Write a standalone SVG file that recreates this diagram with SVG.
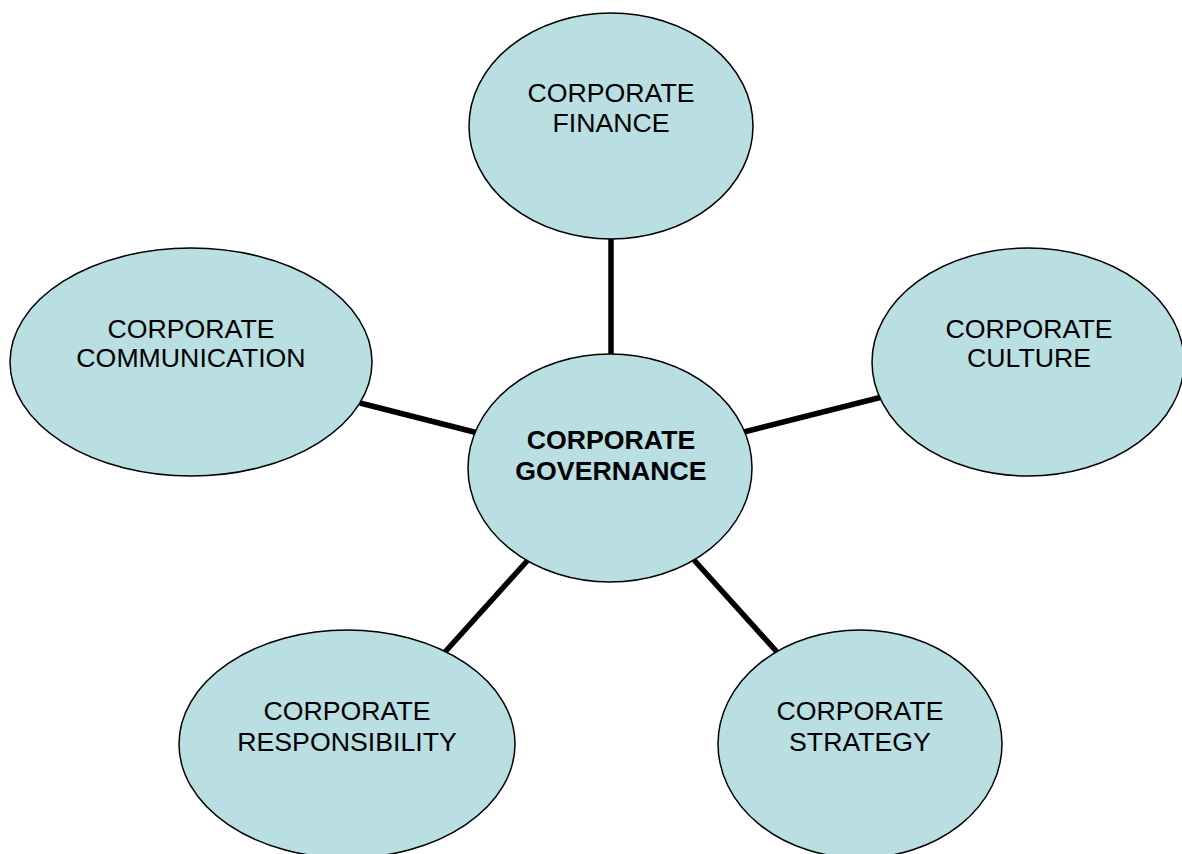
<svg xmlns="http://www.w3.org/2000/svg" width="1182" height="854" viewBox="0 0 1182 854">
<style>
.node{fill:#B9DFE2;stroke:#000;stroke-width:1.5}
.lbl{font-family:"Liberation Sans",Arial,sans-serif;font-size:26.7px;fill:#000;text-anchor:middle}
.bold{font-weight:bold}
.conn{stroke:#000;stroke-width:5.5;fill:none}
</style>
<rect width="1182" height="854" fill="#fff"/>
<g id="connectors">
<line class="conn" x1="611" y1="238" x2="611" y2="356"/>
<line class="conn" x1="360" y1="403" x2="478" y2="433"/>
<line class="conn" x1="744" y1="432" x2="882" y2="397"/>
<line class="conn" x1="528" y1="560" x2="445" y2="652"/>
<line class="conn" x1="694" y1="560" x2="777" y2="652"/>
</g>
<g id="finance">
<ellipse class="node" cx="611" cy="126" rx="142" ry="113"/>
<text class="lbl" x="611" y="102">CORPORATE</text>
<text class="lbl" x="611" y="132">FINANCE</text>
</g>
<g id="communication">
<ellipse class="node" cx="191" cy="362" rx="181" ry="114"/>
<text class="lbl" x="191" y="338">CORPORATE</text>
<text class="lbl" x="191" y="367">COMMUNICATION</text>
</g>
<g id="culture">
<ellipse class="node" cx="1028" cy="362" rx="156" ry="114"/>
<text class="lbl" x="1029" y="338">CORPORATE</text>
<text class="lbl" x="1029" y="367">CULTURE</text>
</g>
<g id="governance">
<ellipse class="node" cx="610" cy="468" rx="142" ry="114"/>
<text class="lbl bold" x="611" y="449">CORPORATE</text>
<text class="lbl bold" x="611" y="480">GOVERNANCE</text>
</g>
<g id="responsibility">
<ellipse class="node" cx="347" cy="744" rx="168" ry="114"/>
<text class="lbl" x="347" y="720">CORPORATE</text>
<text class="lbl" x="347" y="751">RESPONSIBILITY</text>
</g>
<g id="strategy">
<ellipse class="node" cx="860" cy="744" rx="142" ry="114"/>
<text class="lbl" x="860" y="720">CORPORATE</text>
<text class="lbl" x="860" y="751">STRATEGY</text>
</g>
</svg>
